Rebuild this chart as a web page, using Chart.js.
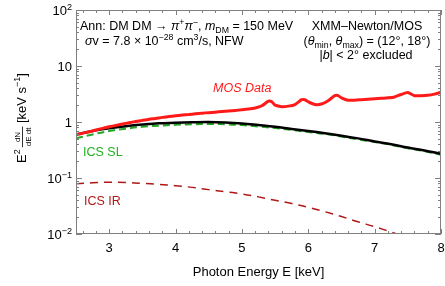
<!DOCTYPE html>
<html>
<head>
<meta charset="utf-8">
<script src="https://cdn.jsdelivr.net/npm/chart.js@4"></script>
<style>
  html, body { margin: 0; padding: 0; background: #fff; }
  #wrap { width: 445px; height: 286px; position: relative; }
</style>
</head>
<body>
<div id="wrap"><canvas id="spec"></canvas></div>
<script>
// MOS data (E in keV, E^2 dN/dE dt in keV/s)
const mosE = [2.5, 2.6, 2.7, 2.8, 2.9, 3.0, 3.1, 3.2, 3.3, 3.4, 3.5, 3.6, 3.7, 3.8, 3.9,
  4.0, 4.1, 4.2, 4.3, 4.4, 4.5, 4.6, 4.7, 4.8, 4.9, 5.0, 5.1, 5.2, 5.3, 5.4, 5.45, 5.5,
  5.6, 5.7, 5.8, 5.9, 5.95, 6.0, 6.1, 6.2, 6.3, 6.4, 6.45, 6.5, 6.6, 6.7, 6.8, 6.9, 7.0,
  7.1, 7.2, 7.3, 7.4, 7.5, 7.6, 7.7, 7.8, 7.9, 8.0];
const mosVals = [0.59, 0.63, 0.67, 0.72, 0.77, 0.82, 0.87, 0.92, 0.97, 1.02, 1.07, 1.12, 1.16, 1.21, 1.25,
  1.29, 1.33, 1.36, 1.40, 1.44, 1.47, 1.50, 1.54, 1.57, 1.61, 1.65, 1.70, 1.78, 1.95, 2.35, 2.3, 2.0,
  1.88, 1.92, 2.05, 2.5, 2.5, 2.3, 2.05, 2.1, 2.4, 2.95, 2.95, 2.7, 2.45, 2.45, 2.5, 2.55, 2.6,
  2.65, 2.7, 2.8, 3.1, 3.35, 2.95, 2.95, 3.0, 3.15, 3.4];

// model curves
const modelE = [2.5, 2.75, 3.0, 3.25, 3.5, 3.75, 4.0, 4.25, 4.5, 4.75, 5.0, 5.25, 5.5, 5.75,
  6.0, 6.25, 6.5, 6.75, 7.0, 7.25, 7.5, 7.75, 8.0];
const totalVals = [0.6, 0.69, 0.77, 0.84, 0.9, 0.95, 0.97, 0.99, 1.0, 0.98, 0.94, 0.88, 0.82, 0.75,
  0.69, 0.63, 0.57, 0.51, 0.45, 0.40, 0.35, 0.31, 0.27];
const icsSLVals = [0.51, 0.6, 0.69, 0.76, 0.82, 0.86, 0.89, 0.91, 0.92, 0.91, 0.88, 0.83, 0.78, 0.72,
  0.66, 0.61, 0.55, 0.49, 0.44, 0.39, 0.34, 0.30, 0.26];
const icsIRVals = [0.079, 0.082, 0.084, 0.083, 0.08, 0.077, 0.073, 0.068, 0.062, 0.057, 0.052, 0.046, 0.040, 0.035,
  0.030, 0.025, 0.0205, 0.0165, 0.0135, 0.0108, 0.0086, 0.0068, 0.0054];

// axis ticks
const xTicks = [3, 4, 5, 6, 7, 8];
const yTicks = [0.01, 0.1, 1, 10, 100];
const yTickLabels = [['10', '\u22122'], ['10', '\u22121'], ['1', ''], ['10', ''], ['10', '2']];

const FONT = '"Liberation Sans", Arial, Helvetica, sans-serif';

function pts(xs, ys) {
    return xs.map((x, i) => ({ x: x, y: ys[i] }));
}

// draw text made of pieces: {t, sup, sub, it, size}
function rich(ctx, x, y, parts, align, size, color) {
    ctx.save();
    ctx.fillStyle = color || '#000';
    ctx.textBaseline = 'alphabetic';
    ctx.textAlign = 'left';
    const items = parts.map(p => {
        const s = p.sup || p.sub ? size * 0.7 : size;
        const f = (p.it ? 'italic ' : '') + s + 'px ' + FONT;
        ctx.font = f;
        return { p: p, f: f, w: ctx.measureText(p.t).width };
    });
    const total = items.reduce((a, b) => a + b.w, 0);
    let cx = align === 'center' ? x - total / 2 : align === 'right' ? x - total : x;
    items.forEach(it => {
        ctx.font = it.f;
        let dy = 0;
        if (it.p.sup) dy = -size * 0.42;
        if (it.p.sub) dy = size * 0.25;
        ctx.fillText(it.p.t, cx, y + dy);
        cx += it.w;
    });
    ctx.restore();
}

const framePlugin = {
    id: 'frame',
    afterDraw(chart) {
        const ctx = chart.ctx;
        const a = chart.chartArea;
        const xs = chart.scales.x, ys = chart.scales.y;
        ctx.save();
        ctx.strokeStyle = '#808080';
        ctx.lineWidth = 1;
        ctx.strokeRect(a.left + 0.5, a.top + 0.5, a.right - a.left - 1, a.bottom - a.top - 1);

        ctx.beginPath();
        // x ticks every 0.2, major at integers
        for (let v = 2.6; v < 8.001; v += 0.2) {
            const px = Math.round(xs.getPixelForValue(v)) + 0.5;
            const major = Math.abs(v - Math.round(v)) < 1e-6;
            const len = major ? 5 : 3;
            ctx.moveTo(px, a.bottom); ctx.lineTo(px, a.bottom - len);
            ctx.moveTo(px, a.top); ctx.lineTo(px, a.top + len);
        }
        // y ticks, log decades with minors
        for (let d = -2; d <= 2; d++) {
            for (let m = 1; m <= 9; m++) {
                const v = m * Math.pow(10, d);
                if (v > 100.0001) break;
                const py = Math.round(ys.getPixelForValue(v)) + 0.5;
                const len = m === 1 ? 6 : 3;
                ctx.moveTo(a.left, py); ctx.lineTo(a.left + len, py);
                ctx.moveTo(a.right, py); ctx.lineTo(a.right - len, py);
            }
        }
        ctx.stroke();
        ctx.restore();

        // tick labels
        ctx.save();
        ctx.fillStyle = '#000';
        ctx.font = '13px ' + FONT;
        ctx.textAlign = 'center';
        xTicks.forEach(v => {
            ctx.fillText(String(v), xs.getPixelForValue(v), a.bottom + 18);
        });
        ctx.restore();
        yTicks.forEach((v, i) => {
            const lab = yTickLabels[i];
            const parts = [{ t: lab[0] }];
            if (lab[1]) parts.push({ t: lab[1], sup: true });
            rich(ctx, a.left - 4, ys.getPixelForValue(v) + 5, parts, 'right', 13);
        });

        // axis titles
        ctx.save();
        ctx.font = '13px ' + FONT;
        ctx.fillStyle = '#000';
        ctx.textAlign = 'center';
        ctx.fillText('Photon Energy E [keV]', (a.left + a.right) / 2, a.bottom + 42);
        ctx.restore();

        ctx.save();
        ctx.translate(26, 118);
        ctx.rotate(-Math.PI / 2);
        ctx.fillStyle = '#000';
        ctx.font = '13px ' + FONT;
        const wE = ctx.measureText('E').width;
        ctx.font = '9px ' + FONT;
        const w2 = ctx.measureText('2').width;
        ctx.font = '8px ' + FONT;
        const wFrac = ctx.measureText('dE dt').width + 2;
        ctx.font = '13px ' + FONT;
        const tail = ' [keV s';
        const wTail = ctx.measureText(tail).width;
        ctx.font = '9px ' + FONT;
        const wm1 = ctx.measureText('\u22121').width;
        ctx.font = '13px ' + FONT;
        const wBr = ctx.measureText(']').width;
        let cx = -(wE + w2 + 2 + wFrac + wTail + wm1 + wBr) / 2;
        ctx.textAlign = 'left';
        ctx.fillText('E', cx, 0); cx += wE;
        ctx.font = '9px ' + FONT;
        ctx.fillText('2', cx, -6); cx += w2 + 2;
        ctx.font = '8px ' + FONT;
        ctx.textAlign = 'center';
        ctx.fillText('dN', cx + wFrac / 2, -6);
        ctx.fillText('dE dt', cx + wFrac / 2, 5);
        ctx.fillRect(cx, -4, wFrac, 0.8);
        cx += wFrac;
        ctx.textAlign = 'left';
        ctx.font = '13px ' + FONT;
        ctx.fillText(tail, cx, 0); cx += wTail;
        ctx.font = '9px ' + FONT;
        ctx.fillText('\u22121', cx, -6); cx += wm1;
        ctx.font = '13px ' + FONT;
        ctx.fillText(']', cx, 0);
        ctx.restore();

        // annotations
        const fs = 12.5;
        rich(ctx, 80, 30, [
            { t: 'Ann: DM DM \u2192 ' }, { t: '\u03c0', it: true }, { t: '+', sup: true },
            { t: '\u03c0', it: true }, { t: '\u2212', sup: true }, { t: ', ' },
            { t: 'm', it: true }, { t: 'DM', sub: true }, { t: ' = 150 MeV' }
        ], 'left', fs);
        rich(ctx, 85, 45, [
            { t: '\u03c3', it: true }, { t: 'v = 7.8 \u00d7 10' }, { t: '\u221228', sup: true },
            { t: ' cm' }, { t: '3', sup: true }, { t: '/s, NFW' }
        ], 'left', fs);
        rich(ctx, 367, 30, [{ t: 'XMM\u2013Newton/MOS' }], 'center', fs);
        rich(ctx, 367, 45, [
            { t: '(' }, { t: '\u03b8', it: true }, { t: 'min', sub: true }, { t: ', ' },
            { t: '\u03b8', it: true }, { t: 'max', sub: true }, { t: ') = (12\u00b0, 18\u00b0)' }
        ], 'center', fs);
        rich(ctx, 366, 59, [
            { t: '|' }, { t: 'b', it: true }, { t: '| < 2\u00b0 excluded' }
        ], 'center', fs);

        rich(ctx, 213, 92, [{ t: 'MOS Data', it: true }], 'left', 12.5, '#ff1a1a');
        rich(ctx, 83, 156, [{ t: 'ICS SL' }], 'left', 12.5, '#22b022');
        rich(ctx, 84, 205, [{ t: 'ICS IR' }], 'left', 12.5, '#b01818');
    }
};

new Chart(document.getElementById('spec'), {
    type: 'line',
    data: {
        datasets: [
            {
                label: 'ICS IR',
                data: pts(modelE, icsIRVals),
                borderColor: '#b01818',
                borderWidth: 1.5,
                borderDash: [8, 6],
                pointRadius: 0,
                tension: 0.4,
                order: 4
            },
            {
                label: 'MOS Data',
                data: pts(mosE, mosVals),
                borderColor: '#ff1a1a',
                borderWidth: 3,
                pointRadius: 0,
                tension: 0.2,
                order: 1
            },
            {
                label: 'ICS SL',
                data: pts(modelE, icsSLVals),
                borderColor: '#22a822',
                borderWidth: 2,
                borderDash: [7, 4],
                pointRadius: 0,
                tension: 0.4,
                order: 3
            },
            {
                label: 'Total',
                data: pts(modelE, totalVals),
                borderColor: '#000',
                borderWidth: 2.5,
                pointRadius: 0,
                tension: 0.4,
                order: 2
            }
        ]
    },
    options: {
        responsive: true,
        maintainAspectRatio: false,
        animation: false,
        layout: { padding: { left: 76, right: 4, top: 10, bottom: 52 } },
        plugins: { legend: { display: false }, tooltip: { enabled: false } },
        scales: {
            x: { type: 'linear', min: 2.5, max: 8, display: false },
            y: { type: 'logarithmic', min: 0.01, max: 100, display: false }
        }
    },
    plugins: [framePlugin]
});
</script>
</body>
</html>
